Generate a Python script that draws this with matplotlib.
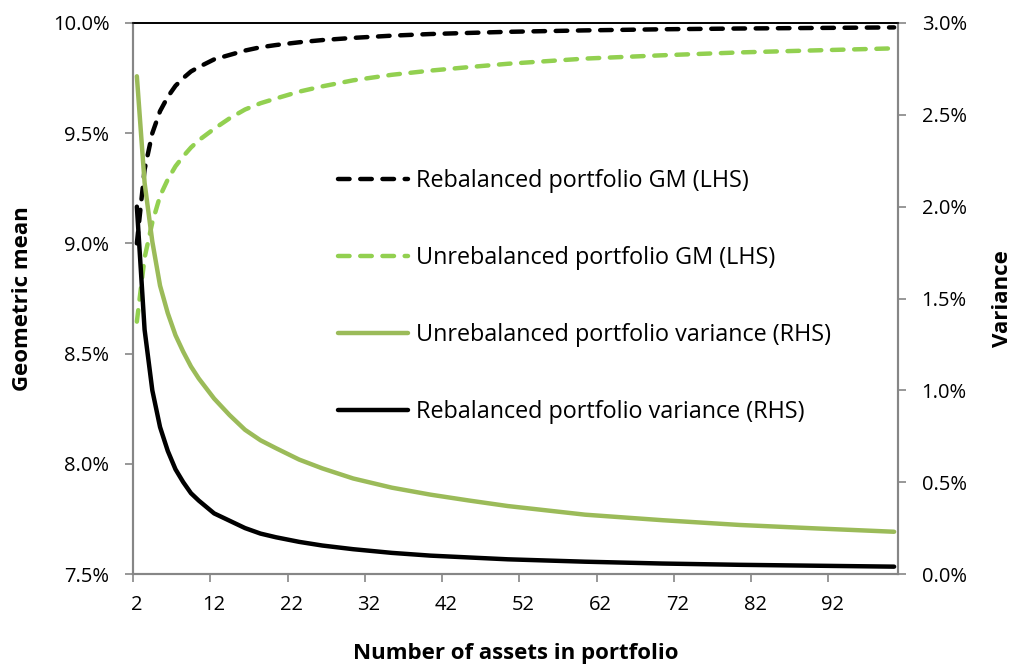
import matplotlib
matplotlib.use("Agg")
import matplotlib.pyplot as plt
from matplotlib.ticker import FixedLocator, FuncFormatter

plt.rcParams['font.family'] = ['Open Sans', 'DejaVu Sans']

# Number of assets
n_assets = [2, 3, 4, 5, 6, 7, 8, 9, 10, 12, 14, 16, 18, 20, 23, 26, 30, 35, 40, 45,
            50, 60, 70, 80, 90, 100]

# Geometric mean (%), left axis
reb_gm = [9.00, 9.335, 9.50, 9.60, 9.665, 9.715, 9.75, 9.78, 9.80, 9.835, 9.855, 9.875,
          9.89, 9.90, 9.9125, 9.9225, 9.9325, 9.9425, 9.95, 9.955, 9.96, 9.9665, 9.9715,
          9.975, 9.9775, 9.98]
unreb_gm = [8.645, 8.935, 9.095, 9.215, 9.29, 9.35, 9.395, 9.435, 9.4675, 9.52, 9.5675,
            9.6075, 9.636, 9.6575, 9.6885, 9.7125, 9.74, 9.765, 9.784, 9.80, 9.815,
            9.8385, 9.8535, 9.8665, 9.876, 9.885]

# Variance (%), right axis
unreb_var = [2.71, 2.13, 1.81, 1.57, 1.42, 1.30, 1.21, 1.13, 1.065, 0.955, 0.865, 0.785,
             0.728, 0.685, 0.623, 0.575, 0.52, 0.47, 0.432, 0.40, 0.37, 0.323, 0.293,
             0.267, 0.248, 0.230]
reb_var = [2.00, 1.33, 1.00, 0.80, 0.67, 0.57, 0.50, 0.44, 0.40, 0.33, 0.29, 0.25, 0.22,
           0.20, 0.175, 0.155, 0.135, 0.115, 0.10, 0.09, 0.08, 0.067, 0.057, 0.05,
           0.045, 0.04]

x_tick_labels = [2, 12, 22, 32, 42, 52, 62, 72, 82, 92]
left_ticks = [7.5, 8.0, 8.5, 9.0, 9.5, 10.0]
right_ticks = [0.0, 0.5, 1.0, 1.5, 2.0, 2.5, 3.0]

labels = ["Rebalanced portfolio GM (LHS)", "Unrebalanced portfolio GM (LHS)",
          "Unrebalanced portfolio variance (RHS)", "Rebalanced portfolio variance (RHS)"]

BLACK = "#000000"
LGREEN = "#92D050"
OGREEN = "#9BBB59"
GRAY = "#868686"

fig = plt.figure(figsize=(10.13, 6.67), dpi=100)
ax1 = fig.add_axes([133 / 1013, 1 - 574 / 667, (898 - 133) / 1013, (574 - 23) / 667])
ax2 = ax1.twinx()

lw = 3.2
dash = (2.6, 2.4)
l1, = ax1.plot(n_assets, reb_gm, color=BLACK, lw=lw, dashes=dash,
               dash_capstyle='round', label=labels[0])
l2, = ax1.plot(n_assets, unreb_gm, color=LGREEN, lw=lw, dashes=dash,
               dash_capstyle='round', label=labels[1])
l3, = ax2.plot(n_assets, unreb_var, color=OGREEN, lw=lw, solid_capstyle='round',
               solid_joinstyle='round', label=labels[2])
l4, = ax2.plot(n_assets, reb_var, color=BLACK, lw=lw, solid_capstyle='round',
               solid_joinstyle='round', label=labels[3])

ax1.set_xlim(1.5, 100.5)
ax1.set_ylim(7.5, 10.0)
ax2.set_ylim(0.0, 3.0)

TICK_FS = 14.5
TITLE_FS = 16

# x ticks at category boundaries, labels at category centres
ax1.xaxis.set_major_locator(FixedLocator([v - 0.5 for v in x_tick_labels]))
ax1.xaxis.set_major_formatter(FuncFormatter(lambda v, p: ""))
ax1.xaxis.set_minor_locator(FixedLocator(x_tick_labels))
ax1.xaxis.set_minor_formatter(FuncFormatter(lambda v, p: f"{int(round(v))}"))
ax1.tick_params(axis='x', which='major', direction='out', length=6, width=1.2, color=GRAY)
ax1.tick_params(axis='x', which='minor', length=0, labelsize=TICK_FS, pad=15)

ax1.set_yticks(left_ticks)
ax1.yaxis.set_major_formatter(FuncFormatter(lambda v, p: f"{v:.1f}%"))
ax1.tick_params(axis='y', direction='out', length=6, width=1.2, color=GRAY,
                labelsize=TICK_FS, pad=11)
ax2.set_yticks(right_ticks)
ax2.yaxis.set_major_formatter(FuncFormatter(lambda v, p: f"{v:.1f}%"))
ax2.tick_params(axis='y', direction='out', length=6, width=1.2, color=GRAY,
                labelsize=TICK_FS, pad=11)

for ax in (ax1, ax2):
    for s in ('left', 'right', 'bottom'):
        ax.spines[s].set_color(GRAY)
        ax.spines[s].set_linewidth(1.5)
    ax.spines['top'].set_color(BLACK)
    ax.spines['top'].set_linewidth(1.2)

ax1.set_ylabel("Geometric mean", fontsize=TITLE_FS, fontweight='bold', labelpad=14)
ax2.set_ylabel("Variance", fontsize=TITLE_FS, fontweight='bold', labelpad=18)
ax1.set_xlabel("Number of assets in portfolio", fontsize=TITLE_FS, fontweight='bold',
               labelpad=20)

leg = ax2.legend(handles=[l1, l2, l3, l4], loc='upper left',
                 bbox_to_anchor=(0.247, 0.765), frameon=False, fontsize=16.8,
                 labelspacing=2.28, handlelength=3.0, handletextpad=0.35,
                 borderpad=0.2)

fig.savefig("out.png", dpi=100)
